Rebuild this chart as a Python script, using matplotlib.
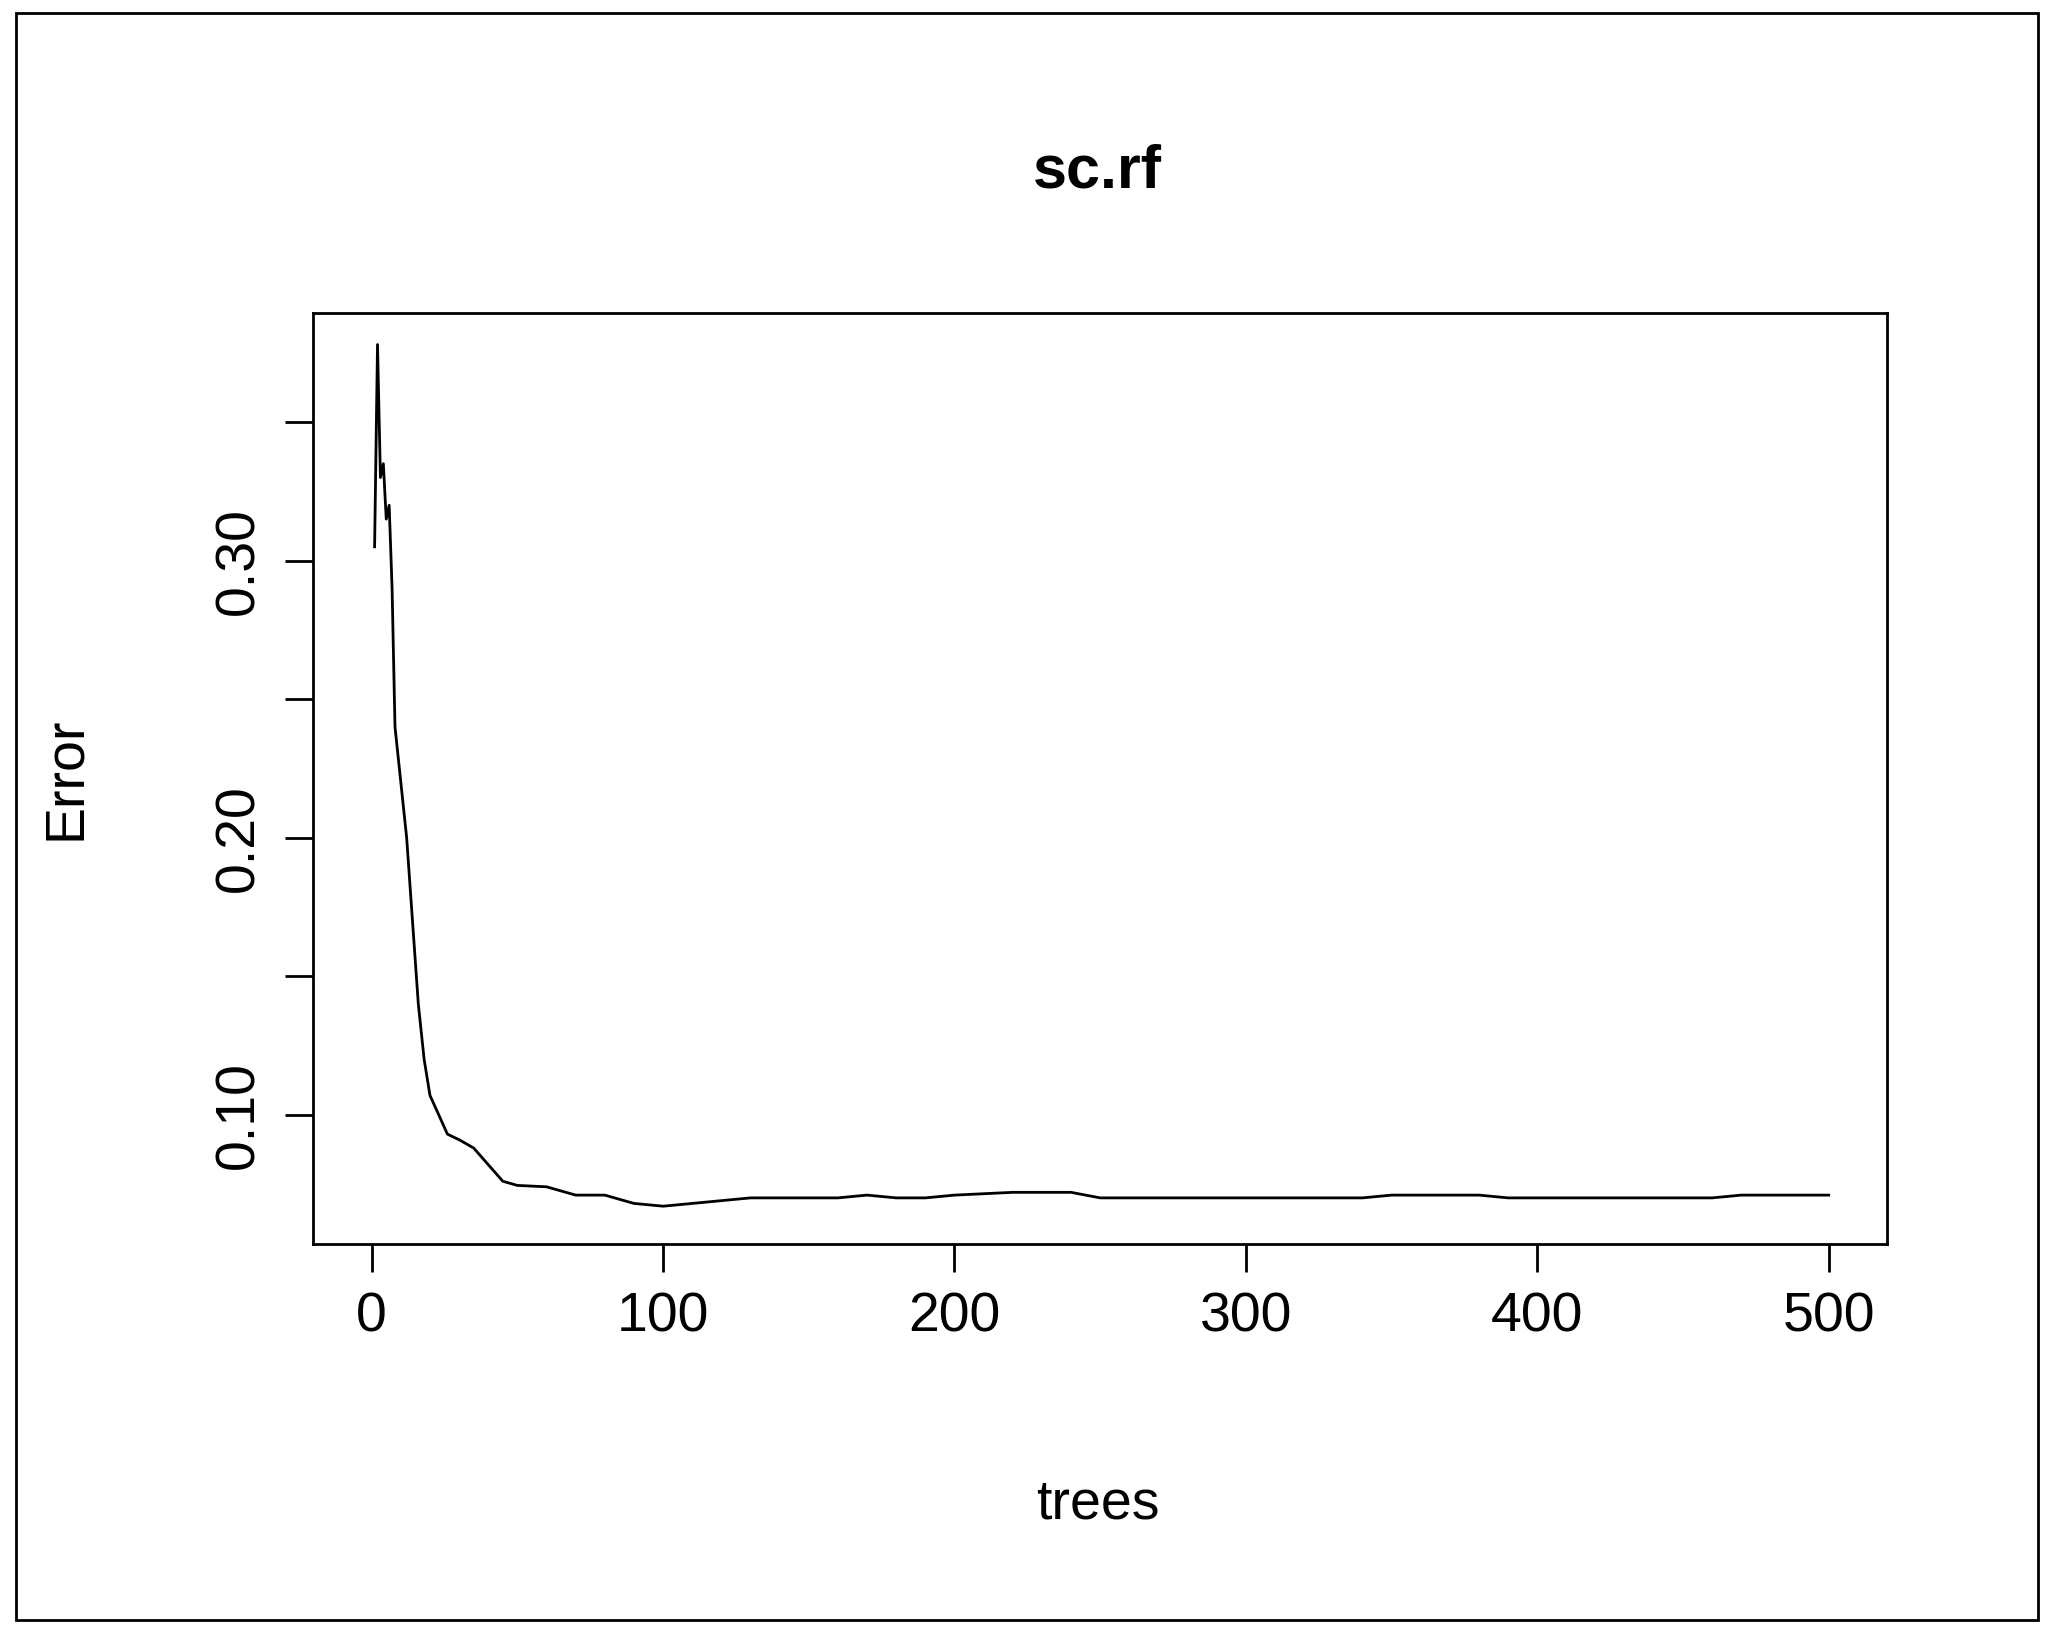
import matplotlib
matplotlib.use("Agg")
import matplotlib.pyplot as plt
from matplotlib.patches import Rectangle

trees = [1,2,3,4,5,6,7,8,10,12,14,16,18,20,23,26,30,35,40,45,50,60,70,80,90,100,110,120,130,160,170,180,190,200,220,230,240,250,300,340,350,380,390,460,470,500]
error = [0.305,0.378,0.33,0.335,0.315,0.32,0.29,0.24,0.22,0.20,0.17,0.14,0.12,0.107,0.100,0.093,0.091,0.088,0.082,0.076,0.0745,0.074,0.071,0.071,0.068,0.067,0.068,0.069,0.070,0.070,0.071,0.070,0.070,0.071,0.072,0.072,0.072,0.070,0.070,0.070,0.071,0.071,0.070,0.070,0.071,0.071]
yticks = [0.10,0.15,0.20,0.25,0.30,0.35]
ylabels = ["0.10","","0.20","","0.30",""]
xticks = [0,100,200,300,400,500]

plt.rcParams['font.family'] = ['Liberation Sans','DejaVu Sans']
fig = plt.figure(figsize=(20.59,16.36), dpi=100)
fig.patches.append(Rectangle((12/1568, 1-1228/1240), 1540/1568, 1218/1240, transform=fig.transFigure, fill=False, lw=2, ec='black'))
ax = fig.add_axes([238/1568, 1-943/1240, (1437-238)/1568, (943-237)/1240])
ax.plot(trees, error, color='black', lw=2)
ax.set_xlim(-20.3, 520)
ax.set_ylim(0.0533, 0.3895)
ax.set_xticks(xticks)
ax.set_xticklabels([str(t) for t in xticks], fontsize=40)
ax.set_yticks(yticks)
ax.set_yticklabels(ylabels, fontsize=40, rotation=90, va='center')
ax.tick_params(direction='out', length=20, width=2, pad=14)
for s in ax.spines.values():
    s.set_linewidth(2)
fig.text(0.533, 1-130/1240, "sc.rf", fontsize=44, fontweight='bold', ha='center', va='center')
fig.text(0.533, 1-1140/1240, "trees", fontsize=40, ha='center', va='center')
fig.text(50/1568, 1-590/1240, "Error", fontsize=40, rotation=90, ha='center', va='center')
fig.savefig("out.png", dpi=100)
